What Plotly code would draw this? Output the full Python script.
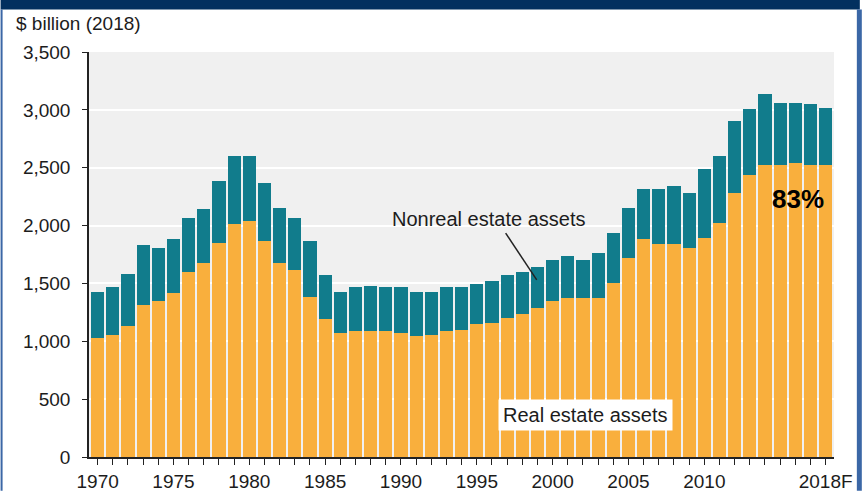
import plotly.graph_objects as go

# Farm sector assets, billion 2018 dollars
years = list(range(1970, 2019))

real_estate = [
    1030, 1055, 1130, 1310, 1350, 1420, 1600, 1680, 1850, 2010,
    2040, 1865, 1680, 1620, 1380, 1190, 1075, 1090, 1090, 1090,
    1075, 1045, 1055, 1090, 1100, 1150, 1160, 1205, 1235, 1290,
    1350, 1375, 1370, 1370, 1505, 1720, 1880, 1840, 1840, 1810,
    1895, 2025, 2285, 2440, 2525, 2520, 2540, 2520, 2520,
]
nonreal_estate = [
    395, 410, 450, 525, 455, 460, 465, 460, 535, 590,
    560, 505, 475, 445, 485, 380, 355, 375, 390, 375,
    390, 380, 370, 375, 365, 345, 365, 365, 360, 355,
    350, 360, 330, 390, 430, 435, 440, 480, 500, 470,
    590, 575, 620, 565, 610, 540, 520, 530, 500,
]

labeled_years = {1970: "1970", 1975: "1975", 1980: "1980", 1985: "1985",
                 1990: "1990", 1995: "1995", 2000: "2000", 2005: "2005",
                 2010: "2010", 2018: "2018F"}
tick_text = [labeled_years.get(y, "") for y in years]

y_ticks = [0, 500, 1000, 1500, 2000, 2500, 3000, 3500]

ORANGE = "#F9AF3D"
TEAL = "#117C8C"
TEXT = "#1c1c1c"
FONT = "Liberation Sans, Arial, sans-serif"

fig = go.Figure()
fig.add_trace(go.Bar(x=years, y=real_estate, name="Real estate assets",
                     marker=dict(color=ORANGE, line=dict(width=0))))
fig.add_trace(go.Bar(x=years, y=nonreal_estate, name="Nonreal estate assets",
                     marker=dict(color=TEAL, line=dict(width=0))))

W, H = 865, 504
L, R, T, B = 89, 26, 52, 33

def px_x(p):
    return (p - L) / (W - L - R)

def px_y(p):
    return (H - B - p) / (H - T - B)

shapes = [
    # navy header band
    dict(type="rect", xref="paper", yref="paper", x0=px_x(0), x1=px_x(W),
         y0=px_y(8), y1=px_y(-2), fillcolor="#03305F", line=dict(width=0), layer="above"),
    # side frame lines
    dict(type="rect", xref="paper", yref="paper", x0=px_x(0), x1=px_x(2),
         y0=px_y(H + 2), y1=px_y(8), fillcolor="#3B67A6", line=dict(width=0)),
    dict(type="rect", xref="paper", yref="paper", x0=px_x(862), x1=px_x(W + 2),
         y0=px_y(H + 2), y1=px_y(8), fillcolor="#3B67A6", line=dict(width=0)),
    # leader line to the nonreal estate segment
    dict(type="line", xref="x", yref="y", x0=1996.9, y0=1935, x1=1998.95, y1=1530,
         line=dict(color="#222222", width=1.5), layer="above"),
]

annotations = [
    dict(text="$ billion (2018)", xref="paper", yref="paper",
         x=px_x(13), y=px_y(22), xanchor="left", yanchor="middle",
         showarrow=False, font=dict(size=19, color=TEXT, family=FONT)),
    dict(text="Nonreal estate assets", xref="x", yref="y",
         x=1995.8, y=2055, showarrow=False,
         font=dict(size=20, color=TEXT, family=FONT)),
    dict(text="Real estate assets", xref="x", yref="y",
         x=2002.15, y=360, showarrow=False, bgcolor="white", borderpad=4,
         font=dict(size=20, color=TEXT, family=FONT)),
    dict(text="<b>83%</b>", xref="x", yref="y",
         x=2016.2, y=2230, showarrow=False,
         font=dict(size=26, color="#000000", family=FONT)),
]

fig.update_layout(
    width=W, height=H,
    margin=dict(l=L, r=R, t=T, b=B, pad=0),
    barmode="stack", bargap=0.13,
    paper_bgcolor="white", plot_bgcolor="#F0F0F0",
    showlegend=False,
    font=dict(family=FONT, size=19, color=TEXT),
    shapes=shapes, annotations=annotations,
    xaxis=dict(
        range=[1969.43, 2018.55], tickmode="array", tickvals=years, ticktext=tick_text,
        ticks="outside", ticklen=6, tickwidth=1.3, tickcolor="#222222",
        showline=True, linecolor="#222222", linewidth=1.5,
        showgrid=False, zeroline=False, tickangle=0,
        tickfont=dict(size=19, color=TEXT, family=FONT),
    ),
    yaxis=dict(
        range=[0, 3500], tickmode="array", tickvals=y_ticks,
        tickformat=",", ticks="outside", ticklen=5, tickwidth=1.3, tickcolor="#222222",
        showline=True, linecolor="#222222", linewidth=1.5,
        showgrid=True, gridcolor="white", gridwidth=1.5, zeroline=False,
        ticklabelstandoff=8,
        tickfont=dict(size=19, color=TEXT, family=FONT),
    ),
)

fig.write_html("out.html")
